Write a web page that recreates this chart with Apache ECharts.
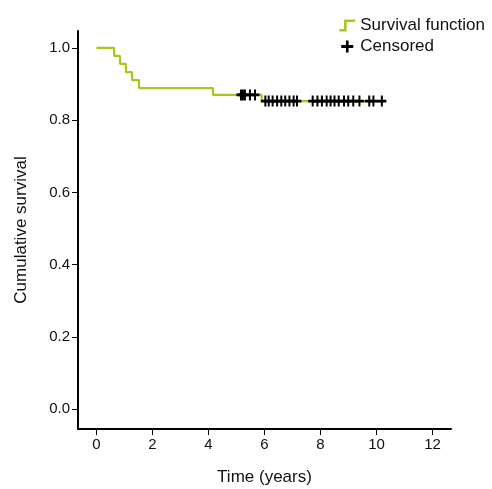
<!DOCTYPE html>
<html>
<head>
<meta charset="utf-8">
<script src="https://cdn.jsdelivr.net/npm/echarts@6/dist/echarts.min.js"></script>
<style>
  html, body { margin: 0; padding: 0; background: #fff; }
  #chart { width: 492px; height: 489px; }
</style>
</head>
<body>
<div id="chart"></div>
<script>
// Kaplan-Meier step points (time in years, cumulative survival)
const stepTimes = [0, 0.63, 0.84, 1.05, 1.27, 1.52, 4.16, 5.9, 10.2];
const stepSurvival = [1.0, 0.978, 0.956, 0.933, 0.911, 0.889, 0.870, 0.853, 0.853];

// censored observations
const censoredTimes = [5.16, 5.23, 5.3, 5.48, 5.66,
  6.03, 6.15, 6.29, 6.45, 6.6, 6.74, 6.89, 7.04, 7.16,
  7.72, 7.89, 8.05, 8.22, 8.36, 8.5, 8.65, 8.84, 8.99, 9.17, 9.39, 9.74, 9.89, 10.19];
const censoredSurvival = [0.870, 0.870, 0.870, 0.870, 0.870,
  0.853, 0.853, 0.853, 0.853, 0.853, 0.853, 0.853, 0.853, 0.853,
  0.853, 0.853, 0.853, 0.853, 0.853, 0.853, 0.853, 0.853, 0.853, 0.853, 0.853, 0.853, 0.853, 0.853];

const xTicks = [0, 2, 4, 6, 8, 10, 12];
const yTicks = [0, 0.2, 0.4, 0.6, 0.8, 1.0];

const green = '#a6c61c';
const plusIcon = 'path://M0,3.8H10V6.2H0Z M3.9,0H6.1V10H3.9Z';
const stepIcon = 'path://M0,8H3V2H10V3.6H4.6V9.6H0Z';

const chart = echarts.init(document.getElementById('chart'));
chart.setOption({
  animation: false,
  textStyle: { fontFamily: 'Liberation Sans, Arial, sans-serif' },
  grid: { left: 78, right: 41, top: 31, bottom: 60, outerBoundsMode: 'none', containLabel: false },
  legend: {
    orient: 'vertical',
    right: 2,
    top: 12,
    itemGap: 4,
    itemWidth: 16,
    itemHeight: 12,
    textStyle: { fontSize: 17, color: '#111' },
    data: [
      { name: 'Survival function', icon: stepIcon },
      { name: 'Censored', icon: plusIcon }
    ]
  },
  xAxis: {
    type: 'value',
    min: -0.66,
    max: 12.66,
    name: 'Time (years)',
    nameLocation: 'middle',
    nameGap: 40,
    nameTextStyle: { fontSize: 17, color: '#111' },
    axisLine: { onZero: false, lineStyle: { color: '#000', width: 2 } },
    axisTick: { customValues: xTicks, length: 6, lineStyle: { color: '#000', width: 1 } },
    axisLabel: { customValues: xTicks, fontSize: 15, color: '#111', margin: 8 },
    splitLine: { show: false }
  },
  yAxis: {
    type: 'value',
    min: -0.055,
    max: 1.047,
    name: 'Cumulative survival',
    nameLocation: 'middle',
    nameGap: 48,
    nameTextStyle: { fontSize: 17, color: '#111' },
    axisLine: { onZero: false, lineStyle: { color: '#000', width: 2 } },
    axisTick: { customValues: yTicks, length: 6, lineStyle: { color: '#000', width: 1 } },
    axisLabel: {
      customValues: yTicks, fontSize: 15, color: '#111', margin: 8,
      formatter: v => v.toFixed(1)
    },
    splitLine: { show: false }
  },
  series: [
    {
      name: 'Survival function',
      type: 'line',
      step: 'end',
      showSymbol: false,
      color: green,
      lineStyle: { color: green, width: 2.2 },
      data: stepTimes.map((t, i) => [t, stepSurvival[i]])
    },
    {
      name: 'Censored',
      type: 'scatter',
      symbol: plusIcon,
      symbolSize: [9, 11],
      z: 5,
      color: '#000',
      itemStyle: { color: '#000', opacity: 1 },
      data: censoredTimes.map((t, i) => [t, censoredSurvival[i]])
    }
  ]
});
</script>
</body>
</html>
